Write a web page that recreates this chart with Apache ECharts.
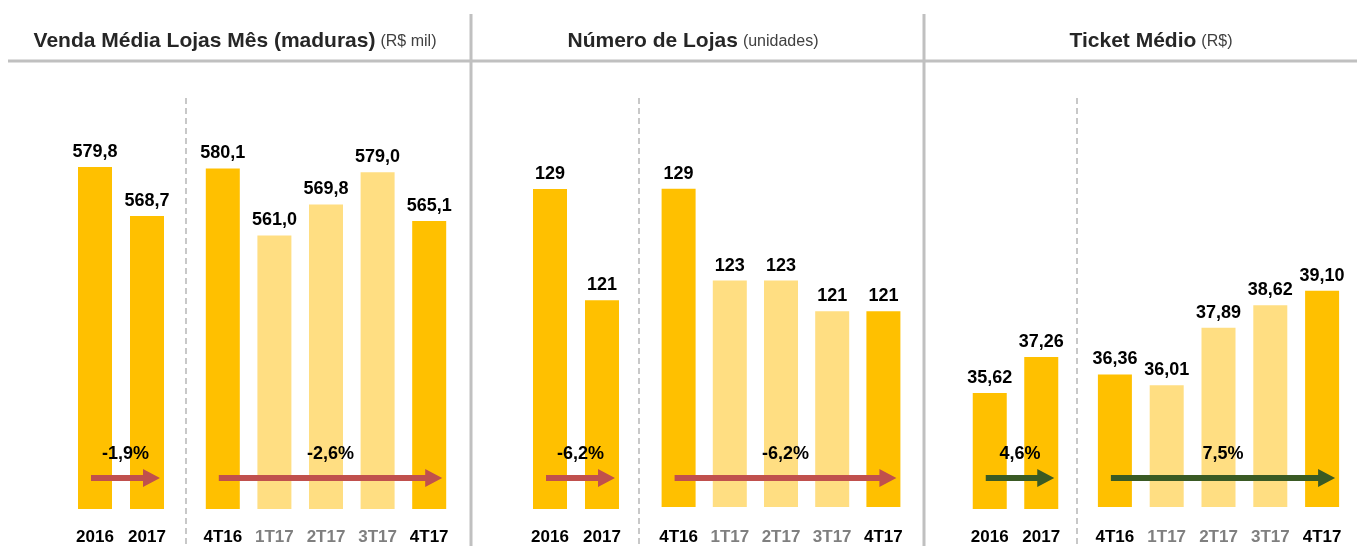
<!DOCTYPE html>
<html>
<head>
<meta charset="utf-8">
<script src="https://cdn.jsdelivr.net/npm/echarts@6/dist/echarts.min.js"></script>
<style>
  html, body { margin: 0; padding: 0; background: #fff; }
  #main { width: 1357px; height: 546px; }
</style>
</head>
<body>
<div id="main"></div>
<script>
// data
const yearCats = ['2016', '2017'];
const quarterCats = ['4T16', '1T17', '2T17', '3T17', '4T17'];

const vendaAnual = [579.8, 568.7];
const vendaTrim = [580.1, 561.0, 569.8, 579.0, 565.1];
const lojasAnual = [129, 121];
const lojasTrim = [129, 123, 123, 121, 121];
const ticketAnual = [35.62, 37.26];
const ticketTrim = [36.36, 36.01, 37.89, 38.62, 39.10];

const varAnual = ['-1,9%', '-6,2%', '4,6%'];
const varTrim = ['-2,6%', '-6,2%', '7,5%'];

const titles = ['Venda Média Lojas Mês (maduras)', 'Número de Lojas', 'Ticket Médio'];
const units = ['(R$ mil)', '(unidades)', '(R$)'];
const decimals = [1, 0, 2];

const FONT = '"Liberation Sans", Arial, sans-serif';
const STRONG = '#FFC000';
const LIGHT = '#FFDE82';

var chartDom = document.getElementById('main');
var myChart = echarts.init(chartDom);

// grid boxes: annual + quarterly per panel
const boxes = [
  { left: 69, width: 104, bottom: 37, min: 502.3, max: 595 },
  { left: 197, width: 258, bottom: 37, min: 483, max: 599.6 },
  { left: 524, width: 104, bottom: 37, min: 106, max: 135.4 },
  { left: 653, width: 256, bottom: 39, min: 108.2, max: 134.8 },
  { left: 964, width: 103, bottom: 37, min: 30.34, max: 48.97 },
  { left: 1089, width: 259, bottom: 39, min: 32.03, max: 45.33 }
];
const seriesData = [vendaAnual, vendaTrim, lojasAnual, lojasTrim, ticketAnual, ticketTrim];
const titleCenters = [230, 688, 1146];

function fmt(v, d) {
  return v.toFixed(d).replace('.', ',');
}

let grid = [], xAxis = [], yAxis = [], series = [];
boxes.forEach((b, i) => {
  const annual = i % 2 === 0;
  const cats = annual ? yearCats : quarterCats;
  const d = decimals[Math.floor(i / 2)];
  grid.push({ left: b.left, width: b.width, top: 100, bottom: b.bottom });
  xAxis.push({
    type: 'category',
    gridIndex: i,
    data: cats,
    axisLine: { show: false },
    axisTick: { show: false },
    axisLabel: {
      margin: 20 + (b.bottom - 37),
      fontFamily: FONT,
      fontSize: 17,
      fontWeight: 'bold',
      color: (val, idx) => (annual || idx === 0 || idx === cats.length - 1) ? '#000' : '#7F7F7F'
    }
  });
  yAxis.push({ type: 'value', gridIndex: i, show: false, min: b.min, max: b.max });
  series.push({
    type: 'bar',
    xAxisIndex: i,
    yAxisIndex: i,
    barWidth: 34,
    data: seriesData[i].map((v, k) => ({
      value: v,
      itemStyle: { color: (annual || k === 0 || k === seriesData[i].length - 1) ? STRONG : LIGHT }
    })),
    label: {
      show: true,
      position: 'top',
      distance: 6,
      fontFamily: FONT,
      fontSize: 18,
      fontWeight: 'bold',
      color: '#000',
      formatter: p => fmt(p.value, d)
    }
  });
});

let title = titles.map((t, i) => ({
  text: '{b|' + t + '} {s|' + units[i] + '}',
  left: titleCenters[i],
  top: 26,
  textAlign: 'center',
  textStyle: {
    rich: {
      b: { fontFamily: FONT, fontSize: 21, fontWeight: 'bold', color: '#262626' },
      s: { fontFamily: FONT, fontSize: 16, fontWeight: 'normal', color: '#404040' }
    }
  }
}));

// separators
let graphic = [
  { type: 'line', shape: { x1: 8, y1: 61, x2: 1357, y2: 61 }, style: { stroke: '#C0C0C0', lineWidth: 3 } },
  { type: 'line', shape: { x1: 471, y1: 14, x2: 471, y2: 546 }, style: { stroke: '#C0C0C0', lineWidth: 3 } },
  { type: 'line', shape: { x1: 924, y1: 14, x2: 924, y2: 546 }, style: { stroke: '#C0C0C0', lineWidth: 3 } }
];
[186, 639, 1077].forEach(x => {
  graphic.push({
    type: 'line',
    shape: { x1: x, y1: 98, x2: x, y2: 546 },
    style: { stroke: '#C8C8C8', lineWidth: 2, lineDash: [6, 4] }
  });
});

var option = {
  backgroundColor: '#fff',
  animation: false,
  title: title,
  grid: grid,
  xAxis: xAxis,
  yAxis: yAxis,
  series: series,
  graphic: graphic
};
myChart.setOption(option);

// arrows with variation labels, drawn above the bars
function arrowShape(x0, x1, y) {
  return [[x0, y - 3], [x1 - 17, y - 3], [x1 - 17, y - 9], [x1, y], [x1 - 17, y + 9], [x1 - 17, y + 3], [x0, y + 3]];
}
let extra = [];
boxes.forEach((b, i) => {
  const n = seriesData[i].length;
  const c0 = myChart.convertToPixel({ xAxisIndex: i }, 0);
  const c1 = myChart.convertToPixel({ xAxisIndex: i }, n - 1);
  const txt = i % 2 === 0 ? varAnual[i / 2] : varTrim[(i - 1) / 2];
  const color = txt.charAt(0) === '-' ? '#C0504D' : '#3A5A24';
  const x0 = c0 - 4, x1 = c1 + 13, y = 478;
  extra.push({ type: 'polygon', z: 100, shape: { points: arrowShape(x0, x1, y) }, style: { fill: color } });
  extra.push({
    type: 'text',
    z: 100,
    style: {
      text: txt, x: (x0 + x1) / 2, y: 454, align: 'center', verticalAlign: 'middle',
      font: 'bold 18px ' + FONT, fill: '#000'
    }
  });
});
myChart.setOption({ graphic: graphic.concat(extra) });

window.addEventListener('resize', () => {
  myChart.resize();
});
</script>
</body>
</html>
